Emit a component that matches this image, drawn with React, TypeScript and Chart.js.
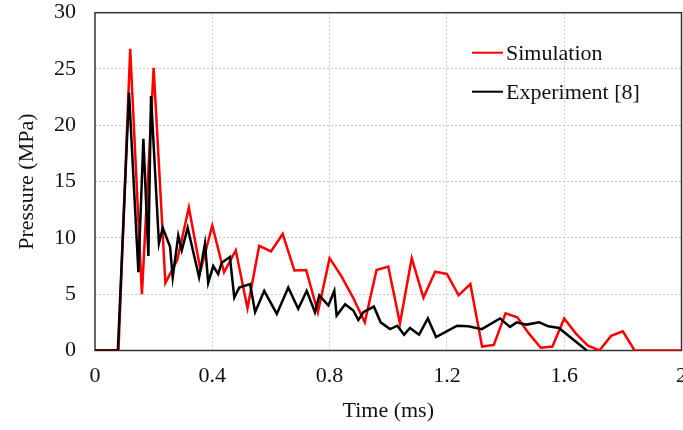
import React, { useEffect, useRef } from "react";
import { Chart, registerables } from "chart.js";

Chart.register(...registerables);

// Simulation (red) — time in ms, pressure in MPa
const simTime = [0, 0.08, 0.12, 0.16, 0.2, 0.24, 0.28, 0.32, 0.36, 0.4, 0.44, 0.48, 0.52, 0.56, 0.6, 0.64, 0.68, 0.72, 0.76, 0.8, 0.84, 0.88, 0.92, 0.96, 1.0, 1.04, 1.08, 1.12, 1.16, 1.2, 1.24, 1.28, 1.32, 1.36, 1.4, 1.44, 1.48, 1.52, 1.56, 1.6, 1.64, 1.68, 1.72, 1.76, 1.8, 1.84, 2.0];
const simPressure = [0, 0, 26.8, 5.0, 25.1, 6.0, 8.0, 12.7, 7.1, 11.1, 6.95, 8.9, 3.75, 9.3, 8.8, 10.35, 7.1, 7.15, 3.4, 8.2, 6.6, 4.7, 2.5, 7.15, 7.45, 2.4, 8.2, 4.7, 7.0, 6.8, 4.9, 5.9, 0.35, 0.5, 3.3, 2.95, 1.5, 0.25, 0.35, 2.85, 1.5, 0.45, 0, 1.3, 1.7, 0, 0];

// Experiment [8] (black)
const expTime = [0, 0.078, 0.116, 0.148, 0.165, 0.182, 0.191, 0.218, 0.231, 0.256, 0.265, 0.284, 0.296, 0.316, 0.355, 0.375, 0.386, 0.403, 0.42, 0.432, 0.46, 0.475, 0.492, 0.529, 0.546, 0.577, 0.62, 0.659, 0.693, 0.722, 0.75, 0.765, 0.796, 0.816, 0.824, 0.853, 0.881, 0.898, 0.915, 0.951, 0.974, 1.006, 1.031, 1.054, 1.074, 1.105, 1.135, 1.163, 1.199, 1.235, 1.273, 1.319, 1.381, 1.415, 1.438, 1.472, 1.515, 1.546, 1.582, 1.677];
const expPressure = [0, 0, 22.9, 6.95, 18.8, 8.4, 22.6, 9.5, 10.9, 9.2, 6.5, 10.2, 8.9, 10.9, 6.5, 9.5, 6.0, 7.5, 6.8, 7.8, 8.3, 4.7, 5.6, 5.9, 3.4, 5.3, 3.25, 5.6, 3.7, 5.3, 3.4, 4.9, 4.0, 5.3, 3.1, 4.1, 3.55, 2.7, 3.4, 3.9, 2.5, 1.9, 2.2, 1.4, 2.0, 1.4, 2.85, 1.2, 1.7, 2.2, 2.15, 1.9, 2.85, 2.1, 2.5, 2.3, 2.5, 2.15, 2.0, 0];

const seriesLabels = ["Simulation", "Experiment [8]"];
const seriesColors = ["#ff0000", "#000000"];

const xTickLabels = ["0", "0.4", "0.8", "1.2", "1.6", "2"];
const yTickLabels = ["0", "5", "10", "15", "20", "25", "30"];

const xTitle = "Time (ms)";
const yTitle = "Pressure (MPa)";

const FONT = "'Liberation Serif', 'Times New Roman', serif";

const framePlugin = {
  id: "frame",
  beforeDatasetsDraw(chart: any) {
    const { ctx, chartArea: a } = chart;
    ctx.save();
    ctx.strokeStyle = "#333333";
    ctx.lineWidth = 1.5;
    ctx.strokeRect(a.left, a.top, a.right - a.left, a.bottom - a.top);
    ctx.restore();
  },
};

const legendPlugin = {
  id: "insideLegend",
  afterDraw(chart: any) {
    const { ctx } = chart;
    const rows = [
      { y: 52.7, base: 59.5 },
      { y: 91.7, base: 98.5 },
    ];
    ctx.save();
    chart.data.datasets.forEach((ds: any, i: number) => {
      const r = rows[i];
      ctx.strokeStyle = ds.borderColor;
      ctx.lineWidth = 2;
      ctx.beginPath();
      ctx.moveTo(472, r.y);
      ctx.lineTo(503, r.y);
      ctx.stroke();
      ctx.fillStyle = "#111111";
      ctx.font = `22px ${FONT}`;
      ctx.textAlign = "left";
      ctx.textBaseline = "alphabetic";
      ctx.fillText(ds.label, 506, r.base);
    });
    ctx.restore();
  },
};

export default function App() {
  const ref = useRef<HTMLCanvasElement | null>(null);

  useEffect(() => {
    if (!ref.current) return;
    const simData = simTime.map((t, i) => ({ x: t, y: simPressure[i] }));
    const expData = expTime.map((t, i) => ({ x: t, y: expPressure[i] }));
    const chart = new Chart(ref.current, {
      type: "line",
      data: {
        datasets: [
          {
            label: seriesLabels[0],
            data: simData,
            borderColor: seriesColors[0],
            backgroundColor: seriesColors[0],
            borderWidth: 2.5,
            pointRadius: 0,
            tension: 0,
            order: 2,
          },
          {
            label: seriesLabels[1],
            data: expData,
            borderColor: seriesColors[1],
            backgroundColor: seriesColors[1],
            borderWidth: 2.5,
            pointRadius: 0,
            tension: 0,
            order: 1,
          },
        ],
      },
      options: {
        responsive: false,
        animation: false,
        layout: { padding: { top: 12.7, right: 1.5, left: 0, bottom: 0 } },
        plugins: {
          legend: { display: false },
          tooltip: { enabled: false },
        },
        scales: {
          x: {
            type: "linear",
            min: 0,
            max: 2,
            ticks: {
              stepSize: 0.4,
              padding: 13,
              color: "#111111",
              font: { family: FONT, size: 22 },
              maxRotation: 0,
              callback: (_v: any, idx: number) => xTickLabels[idx],
            },
            grid: {
              color: (c: any) => (c.index === 0 || c.index === xTickLabels.length - 1 ? "rgba(0,0,0,0)" : "#c8c8c8"),
              lineWidth: 1,
              drawTicks: false,
            },
            border: { display: false, dash: [2, 2] },
            title: {
              display: true,
              text: xTitle,
              color: "#111111",
              font: { family: FONT, size: 22 },
              padding: { top: 0, bottom: 6 },
            },
            afterFit: (s: any) => {
              s.height = 79.5;
              s.paddingLeft = 0;
              s.paddingRight = 0;
            },
          },
          y: {
            type: "linear",
            min: 0,
            max: 30,
            ticks: {
              stepSize: 5,
              padding: 19,
              color: "#111111",
              font: { family: FONT, size: 22 },
              callback: (_v: any, idx: number) => yTickLabels[idx],
            },
            grid: {
              color: (c: any) => (c.index === 0 || c.index === yTickLabels.length - 1 ? "rgba(0,0,0,0)" : "#c8c8c8"),
              lineWidth: 1,
              drawTicks: false,
            },
            border: { display: false, dash: [2, 2] },
            title: {
              display: true,
              text: yTitle,
              color: "#111111",
              font: { family: FONT, size: 22 },
              padding: { top: 14, bottom: 0 },
            },
            afterFit: (s: any) => {
              s.width = 95;
              s.paddingTop = 0;
              s.paddingBottom = 0;
            },
          },
        },
      },
      plugins: [framePlugin, legendPlugin],
    } as any);
    return () => chart.destroy();
  }, []);

  return (
    <div style={{ position: "fixed", left: 0, top: 0, width: 683, height: 430, background: "#ffffff" }}>
      <canvas ref={ref} width={683} height={430} style={{ display: "block" }} />
    </div>
  );
}
